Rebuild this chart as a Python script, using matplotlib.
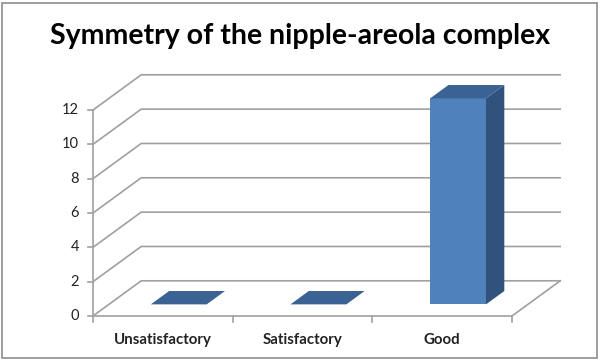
import numpy as np
import matplotlib
matplotlib.use("Agg")
import matplotlib.pyplot as plt
from matplotlib.patches import Polygon, Rectangle

# Data
categories = ['Unsatisfactory', 'Satisfactory', 'Good']
values = [0, 0, 12]
yticks = [0, 2, 4, 6, 8, 10, 12]
title = "Symmetry of the nipple-areola complex"

# Oblique 3D look (depth offset in data units)
DX, DY = 0.345, 2.05
d0, d1 = 0.33, 0.71          # bar depth span (fraction of floor depth)
bar_w = 0.4
grid_c = '#A0A0A0'
front_c, top_c, side_c = '#4F81BD', '#3A6293', '#30527D'

fig = plt.figure(figsize=(6.0, 3.61), dpi=100)
fig.patch.set_facecolor('white')
ax = fig.add_axes([93/600, 45/361, 419/600, 206/361])
ax.set_xlim(0, len(categories))
ax.set_ylim(0, 12)
ax.axis('off')

def P(x, v, d):
    return (x + d*DX, v + d*DY)

ncat = len(categories)
# back wall gridlines + diagonals
for v in yticks:
    ax.plot([0, DX, ncat + DX], [v, v + DY, v + DY], color=grid_c, lw=1.2,
            clip_on=False, zorder=1, solid_joinstyle='miter')
# floor edges
ax.plot([0, ncat, ncat + DX], [0, 0, DY], color=grid_c, lw=1.2, clip_on=False, zorder=1)
# value axis
ax.plot([0, 0], [0, 12], color=grid_c, lw=1.2, clip_on=False, zorder=1)
for v in yticks:
    ax.plot([-0.035, 0], [v, v], color=grid_c, lw=1.2, clip_on=False, zorder=1)
    ax.text(-0.1, v, str(v), ha='right', va='center', fontsize=10.5,
            family='Lato', color='#222222')
# category ticks
for i in range(ncat + 1):
    ax.plot([i, i], [0, -0.35], color=grid_c, lw=1.2, clip_on=False, zorder=1)

# bars
for i, (cat, v) in enumerate(zip(categories, values)):
    xl = i + 0.5 - bar_w/2
    xr = i + 0.5 + bar_w/2
    if v > 0:
        front = Polygon([P(xl, 0, d0), P(xr, 0, d0), P(xr, v, d0), P(xl, v, d0)],
                        closed=True, fc=front_c, ec='none', zorder=3, clip_on=False)
        side = Polygon([P(xr, 0, d0), P(xr, 0, d1), P(xr, v, d1), P(xr, v, d0)],
                       closed=True, fc=side_c, ec='none', zorder=3, clip_on=False)
        ax.add_patch(front)
        ax.add_patch(side)
    top = Polygon([P(xl, v, d0), P(xr, v, d0), P(xr, v, d1), P(xl, v, d1)],
                  closed=True, fc=top_c, ec='none', zorder=3, clip_on=False)
    ax.add_patch(top)
    ax.text(i + 0.5, -1.4, cat, ha='center', va='center', fontsize=10.8,
            fontweight='bold', family='Lato', color='#222222')

fig.text(0.5, 1 - 36/361, title, ha='center', va='center', fontsize=20.5,
         fontweight='bold', family='Lato', color='black')

# chart border
fig.add_artist(Rectangle((2/600, 3/361), 595/600, 355/361, transform=fig.transFigure,
                         fill=False, ec='#8C8C8C', lw=1.2))

fig.savefig('out.png', dpi=100)
